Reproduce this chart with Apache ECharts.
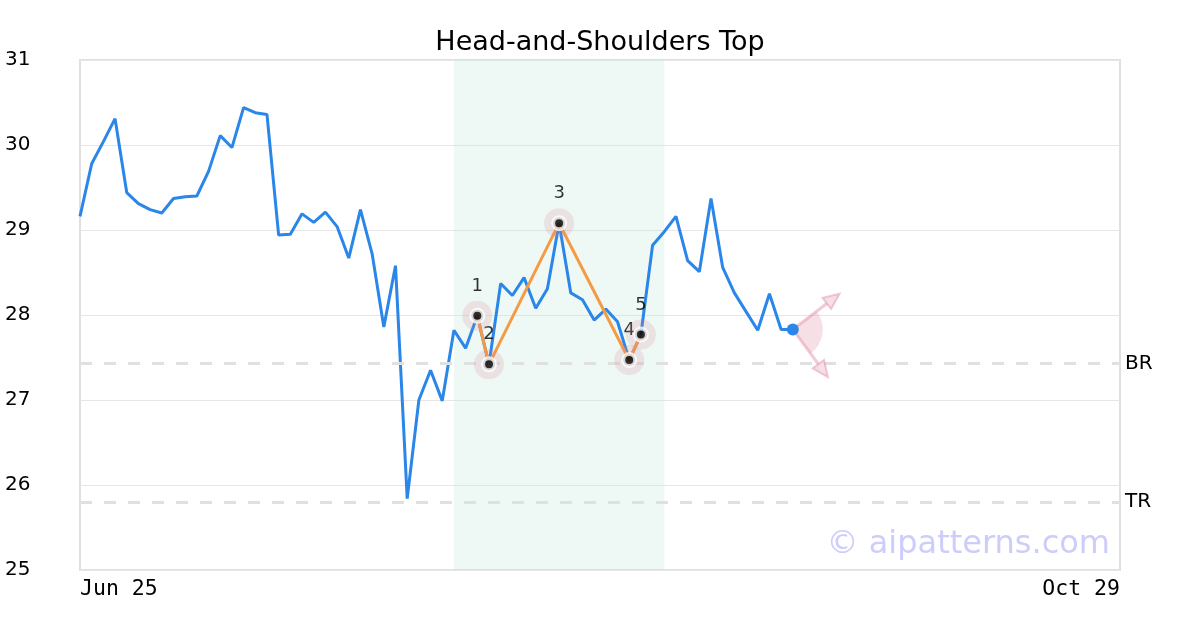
<!DOCTYPE html>
<html>
<head>
<meta charset="utf-8">
<script src="https://cdn.jsdelivr.net/npm/echarts@6/dist/echarts.min.js"></script>
<style>
  html, body { margin: 0; padding: 0; background: #fff; }
  #main { width: 1200px; height: 630px; }
</style>
</head>
<body>
<div id="main"></div>
<script>
// trading days shown on the x axis (only first and last are labelled)
const categories = [
  'Jun 25', 'Jun 26', 'Jun 27', 'Jun 30',
  'Jul 1', 'Jul 2', 'Jul 3', 'Jul 7', 'Jul 8', 'Jul 9', 'Jul 10', 'Jul 11', 'Jul 14', 'Jul 15',
  'Jul 16', 'Jul 17', 'Jul 18', 'Jul 21', 'Jul 22', 'Jul 23', 'Jul 24', 'Jul 25', 'Jul 28', 'Jul 29',
  'Jul 30', 'Jul 31',
  'Aug 1', 'Aug 4', 'Aug 5', 'Aug 6', 'Aug 7', 'Aug 8', 'Aug 11', 'Aug 12', 'Aug 13', 'Aug 14',
  'Aug 15', 'Aug 18', 'Aug 19', 'Aug 20', 'Aug 21', 'Aug 22', 'Aug 25', 'Aug 26', 'Aug 27', 'Aug 28',
  'Aug 29',
  'Sep 1', 'Sep 2', 'Sep 3', 'Sep 4', 'Sep 5', 'Sep 8', 'Sep 9', 'Sep 10', 'Sep 11', 'Sep 12',
  'Sep 15', 'Sep 16', 'Sep 17', 'Sep 18', 'Sep 19', 'Sep 22', 'Sep 23', 'Sep 24', 'Sep 25', 'Sep 26',
  'Sep 29', 'Sep 30',
  'Oct 1', 'Oct 2', 'Oct 3', 'Oct 6', 'Oct 7', 'Oct 8', 'Oct 9', 'Oct 10', 'Oct 13', 'Oct 14',
  'Oct 15', 'Oct 16', 'Oct 17', 'Oct 20', 'Oct 21', 'Oct 22', 'Oct 23', 'Oct 24', 'Oct 27', 'Oct 28',
  'Oct 29'
];

// closing prices
const closes = [
  29.16, 29.78, 30.04, 30.31, 29.44, 29.31, 29.24, 29.20, 29.37, 29.39,
  29.40, 29.69, 30.11, 29.97, 30.44, 30.38, 30.36, 28.94, 28.95, 29.19,
  29.09, 29.21, 29.04, 28.67, 29.24, 28.72, 27.86, 28.58, 25.84, 27.00,
  27.35, 26.99, 27.82, 27.61, 27.99, 27.42, 28.37, 28.23, 28.44, 28.08,
  28.31, 29.08, 28.26, 28.18, 27.94, 28.07, 27.92, 27.47, 27.77, 28.82,
  28.98, 29.16, 28.64, 28.51, 29.37, 28.56, 28.26, 28.04, 27.82, 28.25,
  27.83, 27.83
];

// head-and-shoulders pivots
const pivotIndex = [34, 35, 41, 47, 48];
const pivotValue = [27.99, 27.42, 29.08, 27.47, 27.77];
const pivotLabel = ['1', '2', '3', '4', '5'];

// pattern zone (category indices)
const zoneStart = 32;
const zoneEnd = 50;

// reference levels
const levelNames = ['BR', 'TR'];
const levelValues = [27.435, 25.80];

// projection arrows from the last close
const lastIndex = closes.length - 1;
const arrowTips = [[65.2, 28.25], [64.0, 27.27]];

const yMin = 25, yMax = 31, yStep = 1;

const chart = echarts.init(document.getElementById('main'));

const pivots = pivotIndex.map((i, k) => [i, pivotValue[k]]);

const option = {
  animation: false,
  title: {
    text: 'Head-and-Shoulders Top',
    left: 'center',
    top: 24,
    textStyle: { fontFamily: 'DejaVu Sans', fontSize: 27, fontWeight: 'normal', color: '#000' }
  },
  grid: {
    left: 80, right: 80, top: 60, bottom: 60,
    show: true, borderColor: '#e0e0e0', borderWidth: 2, backgroundColor: 'transparent'
  },
  xAxis: {
    type: 'category',
    data: categories,
    boundaryGap: false,
    axisLine: { show: false },
    axisTick: { show: false },
    splitLine: { show: false },
    axisLabel: {
      interval: function (i) { return i === 0 || i === categories.length - 1; },
      alignMinLabel: 'left',
      alignMaxLabel: 'right',
      margin: 8,
      fontFamily: 'DejaVu Sans Mono',
      fontSize: 21.5,
      color: '#000'
    }
  },
  yAxis: {
    type: 'value',
    min: yMin, max: yMax, interval: yStep,
    axisLine: { show: false },
    axisTick: { show: false },
    splitLine: { lineStyle: { color: '#e6e6e6', width: 1 } },
    axisLabel: {
      align: 'left',
      margin: 75,
      padding: [4, 0, 0, 0],
      fontFamily: 'DejaVu Sans',
      fontSize: 20,
      color: '#000'
    }
  },
  graphic: [{
    type: 'text',
    right: 90,
    top: 529,
    style: {
      text: '© aipatterns.com',
      font: '32px "DejaVu Sans"',
      fill: '#cdcdfb'
    }
  }],
  series: [
    {
      name: 'close',
      type: 'line',
      data: closes,
      symbol: 'none',
      lineStyle: { color: '#2a86e8', width: 3 },
      z: 3,
      markArea: {
        silent: true,
        itemStyle: { color: 'rgba(200,235,222,0.3)' },
        data: [[{ xAxis: categories[zoneStart] }, { xAxis: categories[zoneEnd] }]]
      },
      markLine: {
        silent: true,
        symbol: 'none',
        lineStyle: { color: '#e0e0e0', width: 3, type: [12, 12] },
        label: {
          position: 'end', distance: 5, formatter: '{b}',
          fontFamily: 'DejaVu Sans', fontSize: 20, color: '#000'
        },
        data: levelValues.map((v, k) => ({ name: levelNames[k], yAxis: v }))
      }
    },
    {
      name: 'pattern',
      type: 'line',
      data: pivots,
      symbol: 'none',
      lineStyle: { color: '#f59b44', width: 3 },
      z: 4
    },
    {
      name: 'labels',
      type: 'scatter',
      data: pivots,
      symbolSize: 1,
      itemStyle: { color: 'rgba(0,0,0,0)' },
      label: {
        show: true,
        position: 'top',
        distance: 20,
        formatter: (p) => pivotLabel[p.dataIndex],
        fontFamily: 'DejaVu Sans',
        fontSize: 18,
        color: '#000'
      },
      z: 4
    },
    {
      name: 'halo',
      type: 'scatter',
      data: pivots,
      symbolSize: 30,
      itemStyle: { color: 'rgba(215,130,150,0.25)' },
      z: 5
    },
    {
      name: 'pivot',
      type: 'scatter',
      data: pivots,
      symbolSize: 12,
      itemStyle: { color: '#000', borderColor: '#fff', borderWidth: 4 },
      z: 6
    },
    {
      name: 'projection',
      type: 'custom',
      clip: false,
      data: [[lastIndex, closes[lastIndex]]],
      z: 6,
      renderItem: function (params, api) {
        const c = api.coord([api.value(0), api.value(1)]);
        const fill = 'rgba(225,150,170,0.3)';
        const stroke = 'rgba(225,150,170,0.5)';
        const angles = [];
        const children = [];
        arrowTips.forEach(function (t) {
          const p = api.coord(t);
          const a = Math.atan2(p[1] - c[1], p[0] - c[0]);
          angles.push(a);
          const len = 16, half = 7;
          const bx = p[0] - len * Math.cos(a), by = p[1] - len * Math.sin(a);
          const nx = -Math.sin(a) * half, ny = Math.cos(a) * half;
          children.push({
            type: 'line',
            shape: { x1: c[0], y1: c[1], x2: bx, y2: by },
            style: { stroke: stroke, lineWidth: 3 }
          });
          children.push({
            type: 'polygon',
            shape: { points: [[p[0], p[1]], [bx + nx, by + ny], [bx - nx, by - ny]] },
            style: { fill: fill, stroke: stroke, lineWidth: 2 }
          });
        });
        children.unshift({
          type: 'sector',
          shape: {
            cx: c[0], cy: c[1], r0: 0, r: 30,
            startAngle: Math.min(angles[0], angles[1]),
            endAngle: Math.max(angles[0], angles[1]),
            clockwise: true
          },
          style: { fill: fill }
        });
        return { type: 'group', children: children };
      }
    },
    {
      name: 'last',
      type: 'scatter',
      data: [[lastIndex, closes[lastIndex]]],
      symbolSize: 12,
      itemStyle: { color: '#2a86e8', opacity: 1 },
      z: 7
    }
  ]
};

chart.setOption(option);
</script>
</body>
</html>
